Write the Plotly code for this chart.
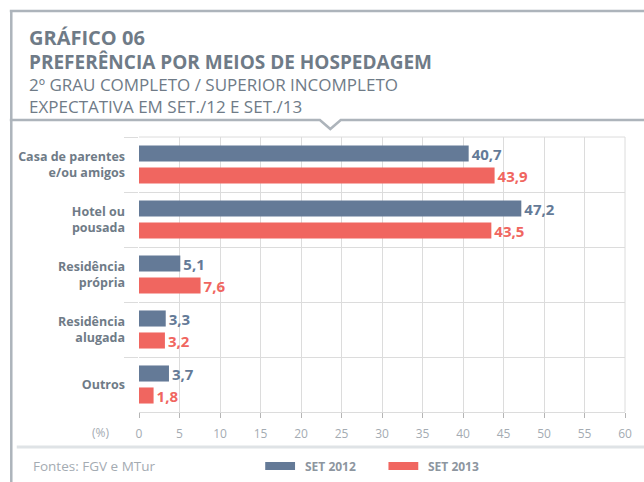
import plotly.graph_objects as go

categories = ["Casa de parentes<br>e/ou amigos", "Hotel ou<br>pousada", "Residência<br>própria",
              "Residência<br>alugada", "Outros"]
set_2012 = [40.7, 47.2, 5.1, 3.3, 3.7]
set_2013 = [43.9, 43.5, 7.6, 3.2, 1.8]
x_ticks = list(range(0, 61, 5))

BLUE = "#647a97"
RED = "#f06660"
DARK = "#6f7b87"
LIGHT = "#a4abb2"
FRAME = "#adb4bb"
GRID = "#dcdcdc"
FONT = "Open Sans"

W, H = 644, 482
L, R, T, B = 139, 16, 137, 70
PW, PH = W - L - R, H - T - B

def px(x):
    return (x - L) / PW

def py(y):
    return (H - B - y) / PH

fig = go.Figure()
fig.add_trace(go.Bar(
    y=categories, x=set_2012, orientation="h", name="SET 2012",
    marker=dict(color=BLUE, line=dict(width=0)),
    texttemplate="%{x:.1f}", textposition="outside", cliponaxis=False, constraintext="none",
    textfont=dict(family=FONT, size=15, color=BLUE, weight="bold"),
    showlegend=False,
))
fig.add_trace(go.Bar(
    y=categories, x=set_2013, orientation="h", name="SET 2013",
    marker=dict(color=RED, line=dict(width=0)),
    texttemplate="%{x:.1f}", textposition="outside", cliponaxis=False, constraintext="none",
    textfont=dict(family=FONT, size=15, color=RED, weight="bold"),
    showlegend=False,
))

shapes = []
# outer frame
shapes.append(dict(type="line", xref="paper", yref="paper", x0=px(9), x1=px(W + 5), y0=py(11), y1=py(11),
                   line=dict(color=FRAME, width=2.5)))
shapes.append(dict(type="line", xref="paper", yref="paper", x0=px(10.5), x1=px(10.5), y0=py(10), y1=py(H + 5),
                   line=dict(color=FRAME, width=2.5)))
# header bottom line with notch
path = "M {a},{b} L {c},{b} L {d},{e} L {f},{b} L {g},{b}".format(
    a=px(9), b=py(120), c=px(321), d=px(331.5), e=py(129), f=px(342), g=px(W + 5))
shapes.append(dict(type="path", xref="paper", yref="paper", path=path,
                   line=dict(color=FRAME, width=2.5)))
# footer separator
shapes.append(dict(type="line", xref="paper", yref="paper", x0=px(16), x1=px(W + 5), y0=py(447), y1=py(447),
                   line=dict(color="#dfe3e6", width=3)))
# plot box top/right
shapes.append(dict(type="line", xref="paper", yref="paper", x0=0, x1=1, y0=1, y1=1,
                   line=dict(color=GRID, width=1)))
shapes.append(dict(type="line", xref="paper", yref="paper", x0=1, x1=1, y0=0, y1=1,
                   line=dict(color=GRID, width=1)))
# legend swatches
shapes.append(dict(type="rect", xref="paper", yref="paper", x0=px(266), x1=px(296), y0=py(470), y1=py(462),
                   fillcolor=BLUE, line=dict(width=0)))
shapes.append(dict(type="rect", xref="paper", yref="paper", x0=px(390), x1=px(420), y0=py(470), y1=py(462),
                   fillcolor=RED, line=dict(width=0)))

annotations = []
def txt(text, x, y, size, color, bold=False, xanchor="left", yanchor="middle"):
    annotations.append(dict(text=text, x=px(x), y=py(y), xref="paper", yref="paper",
                            xanchor=xanchor, yanchor=yanchor, showarrow=False, align="left",
                            font=dict(family=FONT, size=size, color=color, weight="bold" if bold else "normal")))

title = ("<b><span style='font-size:20px'>GRÁFICO 06</span></b><br>"
         "<b><span style='font-size:19px'>PREFERÊNCIA POR MEIOS DE HOSPEDAGEM</span></b>")
subtitle = ("2º GRAU COMPLETO / SUPERIOR INCOMPLETO<br>"
            "EXPECTATIVA EM SET./12 E SET./13")
txt(title, 26, 50, 18.5, DARK)
txt(subtitle, 26, 95.5, 17, DARK)
txt("(%)", 111, 432, 12, LIGHT, xanchor="right")
txt("Fontes: FGV e MTur", 30, 466, 13.5, LIGHT)
txt("SET 2012", 304, 466, 12, "#8d969f", True)
txt("SET 2013", 428, 466, 12, "#8d969f", True)

fig.update_layout(
    width=W, height=H, margin=dict(l=L, r=R, t=T, b=B, pad=0),
    paper_bgcolor="white", plot_bgcolor="white",
    barmode="group", bargap=0.2, bargroupgap=0.27,
    separators=",.",
    shapes=shapes, annotations=annotations,
    xaxis=dict(range=[0, 60], tickvals=x_ticks, showgrid=True, gridcolor=GRID, gridwidth=1,
               zeroline=False, showline=True, linecolor=GRID, linewidth=1,
               ticks="outside", ticklen=5, tickcolor="#b5b5b5",
               tickfont=dict(family=FONT, size=12, color=LIGHT), ticklabelstandoff=6),
    yaxis=dict(autorange="reversed", tickson="boundaries", ticks="outside", ticklen=14, tickcolor=GRID,
               showgrid=True, gridcolor=GRID, gridwidth=1, showline=False, zeroline=False,
               ticklabelstandoff=13,
               tickfont=dict(family=FONT, size=12.5, color=DARK, weight="bold")),
    font=dict(family=FONT),
)

fig.write_html("out.html", config={"displayModeBar": False},
               post_script="document.body.style.margin='0px';document.body.style.padding='0px';")
